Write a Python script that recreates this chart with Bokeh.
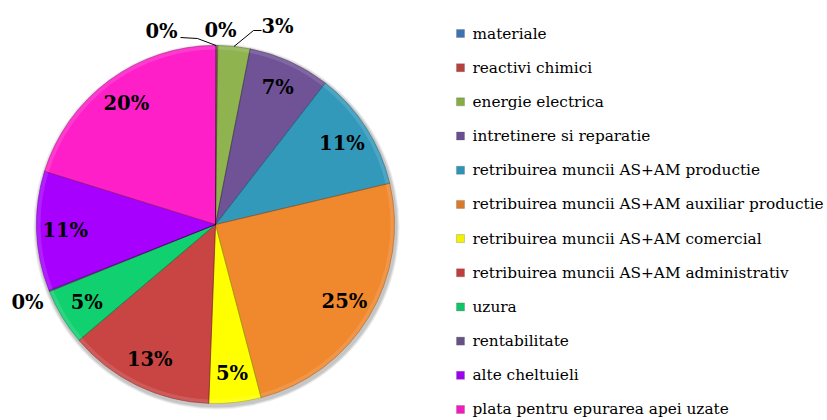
import math
import numpy as np
from bokeh.plotting import figure
from bokeh.models import ColumnDataSource, Range1d
from bokeh.core.properties import value
from bokeh.embed import file_html
from bokeh.resources import INLINE

# ---------------- data ----------------
categories = [
    "materiale",
    "reactivi chimici",
    "energie electrica",
    "intretinere si reparatie",
    "retribuirea muncii AS+AM productie",
    "retribuirea muncii AS+AM auxiliar productie",
    "retribuirea muncii AS+AM comercial",
    "retribuirea muncii AS+AM administrativ",
    "uzura",
    "rentabilitate",
    "alte cheltuieli",
    "plata pentru epurarea apei uzate",
]
shares = [0.1, 0.1, 2.9, 7.4, 10.8, 24.6, 4.7, 13.2, 5.1, 0.1, 10.8, 20.2]

slice_colors = [
    "#4F81BD", "#C0504D", "#8EB34F", "#6F5396", "#3399BB", "#F0882E",
    "#FFFF00", "#C94543", "#10D070", "#6E5A8A", "#A800FF", "#FF1FC8",
]
legend_colors = [
    "#3F72B0", "#B8403D", "#86AD45", "#6A4E92", "#2E93B5", "#D97A28",
    "#F2F200", "#C23C3A", "#10C46A", "#655283", "#9E00F2", "#F21ABF",
]

# ---------------- layout ----------------
W, H = 827, 420
CX, CY, R = 215, 196, 179
LABEL_FRAC = 0.84
FONT = "DejaVu Serif"

# outside labels: index -> (dx, dy) of label relative to pie centre
outside_labels = {0: (-54, 193), 1: (5, 194), 2: (62, 198), 9: (-188, -78)}
# leader lines: index -> list of (dx, dy) points after the slice-edge point
leaders = {0: [(-18, 186), (-35, 187)], 2: [(38, 194), (46, 194)]}

LEG_SQ_X, LEG_TX_X, LEG_Y0, LEG_DY = 460, 472, 387, 34.18

total = float(sum(shares))
vals = np.array(shares) / total
cum_end = np.cumsum(vals)
cum_start = cum_end - vals
start_ang = math.pi / 2 - 2 * math.pi * cum_start
end_ang = math.pi / 2 - 2 * math.pi * cum_end
mid_ang = (start_ang + end_ang) / 2

p = figure(width=W, height=H, x_range=Range1d(0, W), y_range=Range1d(0, H),
           output_backend="svg", toolbar_location=None, min_border=0)
p.axis.visible = False
p.grid.visible = False
p.outline_line_color = None
p.background_fill_color = "white"
p.border_fill_color = "white"

# soft shadow
for k, a in [(4, 0.06), (3, 0.08), (2, 0.10)]:
    p.circle(x=[CX + 1], y=[CY - 2], radius=R + k, fill_color="black",
             fill_alpha=a, line_color=None)

src = ColumnDataSource(dict(
    x=[CX] * len(shares), y=[CY] * len(shares),
    start=start_ang, end=end_ang, color=slice_colors,
))
p.wedge(x="x", y="y", radius=R, start_angle="start", end_angle="end",
        direction="clock", fill_color="color", line_color="color",
        line_width=0.5, source=src)
# bevel: lighter rim and dark separating edges
p.annular_wedge(x="x", y="y", inner_radius=R - 4, outer_radius=R,
                start_angle="start", end_angle="end", direction="clock",
                fill_color="white", fill_alpha=0.12, line_color=None, source=src)
p.wedge(x="x", y="y", radius=R, start_angle="start", end_angle="end",
        direction="clock", fill_color=None, line_color="black",
        line_alpha=0.18, line_width=1, source=src)

# data labels
pct = [f"{round(v * 100):.0f}%" for v in vals]
lx, ly = [], []
for i in range(len(shares)):
    if i in outside_labels:
        dx, dy = outside_labels[i]
        lx.append(CX + dx)
        ly.append(CY + dy)
    else:
        lx.append(CX + LABEL_FRAC * R * math.cos(mid_ang[i]))
        ly.append(CY + LABEL_FRAC * R * math.sin(mid_ang[i]))
p.text(x=lx, y=ly, text=pct, text_font=value(FONT), text_font_style="bold",
       text_font_size="19.5px", text_align="center", text_baseline="middle",
       text_color="black")

for i, pts in leaders.items():
    xs = [CX + R * math.cos(mid_ang[i])] + [CX + dx for dx, _ in pts]
    ys = [CY + R * math.sin(mid_ang[i])] + [CY + dy for _, dy in pts]
    p.line(xs, ys, line_color="black", line_width=1)

# legend
leg_y = [LEG_Y0 - i * LEG_DY for i in range(len(categories))]
p.rect(x=[LEG_SQ_X] * len(categories), y=leg_y, width=8, height=8,
       fill_color=legend_colors, line_color="#555555", line_width=0.5, line_alpha=0.5)
p.text(x=[LEG_TX_X] * len(categories), y=leg_y, text=categories,
       text_font=value(FONT), text_font_size="15.3px", text_baseline="middle",
       text_align="left", text_color="black")

open("out.html", "w").write(file_html(p, INLINE))
